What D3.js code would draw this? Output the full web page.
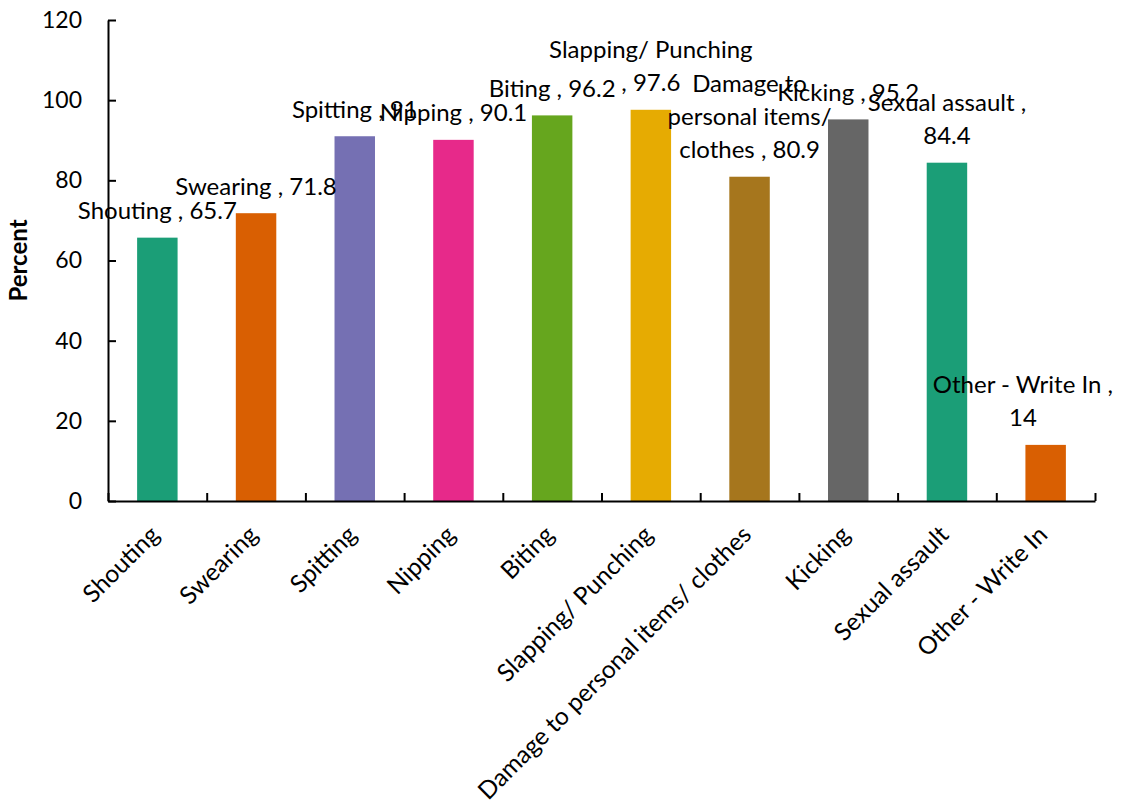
<!DOCTYPE html>
<html>
<head>
<meta charset="utf-8">
<script src="https://cdn.jsdelivr.net/npm/d3@7/dist/d3.min.js"></script>
<style>
  html, body { margin: 0; padding: 0; background: #fff; }
  svg { display: block; font-family: Lato, "Open Sans", sans-serif; }
</style>
</head>
<body>
<svg id="chart" width="1122" height="809"></svg>
<script>
// Share of respondents reporting each behaviour (percent)
const categories = [
  "Shouting", "Swearing", "Spitting", "Nipping", "Biting",
  "Slapping/ Punching", "Damage to personal items/ clothes",
  "Kicking", "Sexual assault", "Other - Write In"
];
const values = [65.7, 71.8, 91, 90.1, 96.2, 97.6, 80.9, 95.2, 84.4, 14];
const yTicks = [0, 20, 40, 60, 80, 100, 120];
const yTitle = "Percent";

// Dark2 palette, cycling per bar
const colors = ["#1b9e77", "#d95f02", "#7570b3", "#e7298a", "#66a61e",
                "#e6ab02", "#a6761d", "#666666", "#1b9e77", "#d95f02"];

// Word indices after which a data label wraps to a new line
const labelBreaks = [[], [], [], [], [], [2], [2, 4], [], [3], [5]];

const svg = d3.select("#chart");
const W = 1122;
const plotLeft = 108, plotRight = 1095, plotTop = 20, plotBottom = 501;

const x = d3.scaleBand()
  .domain(categories)
  .range([plotLeft, plotRight])
  .paddingInner(0.59)
  .paddingOuter(0.295);

const y = d3.scaleLinear().domain([0, 120]).range([plotBottom, plotTop]);

// Bars
svg.append("g").selectAll("rect")
  .data(values)
  .join("rect")
  .attr("x", (d, i) => x(categories[i]))
  .attr("width", x.bandwidth())
  .attr("y", d => y(d))
  .attr("height", d => y(0) - y(d))
  .attr("fill", (d, i) => colors[i]);

// Y axis with inward ticks
const yAxis = svg.append("g")
  .attr("transform", `translate(${plotLeft},0)`)
  .call(d3.axisLeft(y).tickValues(yTicks).tickSize(-8).tickSizeOuter(0).tickPadding(26));
yAxis.select(".domain").attr("stroke", "#000").attr("stroke-width", 2);
yAxis.selectAll(".tick line").attr("stroke", "#000").attr("stroke-width", 2);
yAxis.selectAll(".tick text")
  .attr("font-size", 23).attr("fill", "#000")
  .style("font-family", "Lato, sans-serif");

// X axis: baseline plus tick marks on the category boundaries
const edge = d3.scaleLinear().domain([0, categories.length]).range([plotLeft, plotRight]);
const xAxis = svg.append("g")
  .attr("transform", `translate(0,${plotBottom})`)
  .call(d3.axisBottom(edge).tickValues(d3.range(categories.length + 1))
    .tickSize(-8).tickSizeOuter(0).tickFormat(""));
xAxis.select(".domain").attr("stroke", "#000").attr("stroke-width", 2);
xAxis.selectAll(".tick line").attr("stroke", "#000").attr("stroke-width", 2);

// Rotated category labels
svg.append("g").selectAll("text")
  .data(categories)
  .join("text")
  .attr("transform", d => `translate(${x(d) + x.bandwidth() / 2 - 9},${plotBottom + 23}) rotate(-45)`)
  .attr("text-anchor", "end")
  .attr("dy", "0.71em")
  .attr("font-size", 24.5)
  .attr("fill", "#000")
  .text(d => d);

// Y axis title
svg.append("text")
  .attr("transform", `translate(27,${(plotTop + plotBottom) / 2}) rotate(-90)`)
  .attr("text-anchor", "middle")
  .attr("font-size", 24)
  .attr("font-weight", "bold")
  .attr("fill", "#000")
  .text(yTitle);

// Data labels: "Category , value", wrapped, sitting above each bar,
// kept inside the right edge of the canvas
const lineH = 33;
const labels = svg.append("g");
values.forEach((v, i) => {
  const words = `${categories[i]} , ${v}`.split(" ");
  const cuts = [0, ...labelBreaks[i], words.length];
  const lines = [];
  for (let k = 0; k < cuts.length - 1; k++) lines.push(words.slice(cuts[k], cuts[k + 1]).join(" "));
  const lastMid = y(v) - 27;
  let cx = x(categories[i]) + x.bandwidth() / 2;
  const t = labels.append("text")
    .attr("text-anchor", "middle")
    .attr("font-size", 24)
    .attr("fill", "#000");
  const spans = lines.map((ln, k) => t.append("tspan")
    .attr("x", cx)
    .attr("y", lastMid - (lines.length - 1 - k) * lineH)
    .attr("dy", "0.35em")
    .text(ln));
  const box = t.node().getBBox();
  if (box.x + box.width > W - 9) {
    cx -= box.x + box.width - (W - 9);
    spans.forEach(s => s.attr("x", cx));
  }
});
</script>
</body>
</html>
